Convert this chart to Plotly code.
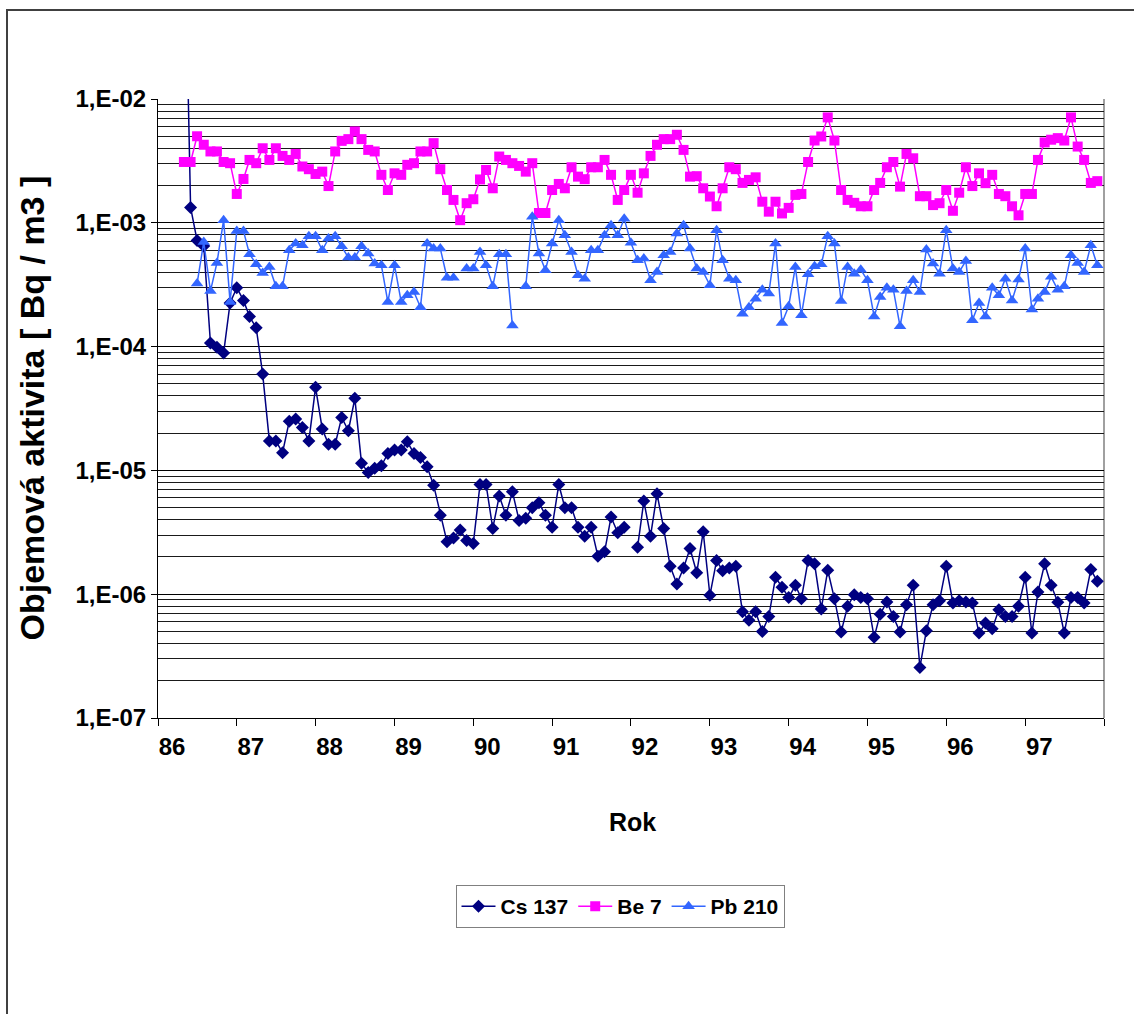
import plotly.graph_objects as go
import pandas as pd

# ---------------- data (monthly values, Bq/m3) ----------------
cs_start = "1986-05-01"
cs137 = [
    0.5, 1.33e-3, 7.2e-4, 6.5e-4, 1.07e-4, 9.9e-5, 8.86e-5, 2.25e-4,           # 86 May-Dec
    2.99e-4, 2.36e-4, 1.75e-4, 1.42e-4, 6.0e-5, 1.73e-5, 1.73e-5, 1.39e-5,
    2.49e-5, 2.6e-5, 2.22e-5, 1.73e-5,                                          # 87
    4.69e-5, 2.16e-5, 1.63e-5, 1.63e-5, 2.68e-5, 2.09e-5, 3.82e-5, 1.14e-5,
    9.6e-6, 1.04e-5, 1.09e-5, 1.37e-5,                                          # 88
    1.46e-5, 1.46e-5, 1.7e-5, 1.37e-5, 1.27e-5, 1.07e-5, 7.6e-6, 4.35e-6,
    2.65e-6, 2.85e-6, 3.3e-6, 2.72e-6,                                          # 89
    2.57e-6, 7.7e-6, 7.7e-6, 3.4e-6, 6.2e-6, 4.35e-6, 6.73e-6, 3.94e-6,
    4.1e-6, 5.0e-6, 5.48e-6, 4.35e-6,                                           # 90
    3.48e-6, 7.7e-6, 5.0e-6, 5.0e-6, 3.48e-6, 2.94e-6, 3.48e-6, 2.03e-6,
    2.2e-6, 4.2e-6, 3.13e-6, 3.48e-6,                                           # 91
    None, 2.4e-6, 5.66e-6, 2.94e-6, 6.48e-6, 3.4e-6, 1.68e-6, 1.21e-6,
    1.63e-6, 2.34e-6, 1.49e-6, 3.19e-6,                                         # 92
    9.8e-7, 1.87e-6, 1.55e-6, 1.63e-6, 1.68e-6, 7.2e-7, 6.15e-7, 7.2e-7,
    5.0e-7, 6.6e-7, 1.37e-6, 1.14e-6,                                           # 93
    9.4e-7, 1.18e-6, 9.2e-7, 1.87e-6, 1.76e-6, 7.6e-7, 1.56e-6, 9.2e-7,
    4.94e-7, 8.0e-7, 9.9e-7, 9.4e-7,                                            # 94
    9.2e-7, 4.48e-7, 6.9e-7, 8.65e-7, 6.6e-7, 4.94e-7, 8.2e-7, 1.18e-6,
    2.56e-7, 5.07e-7, 8.2e-7, 8.87e-7,                                          # 95
    1.68e-6, 8.5e-7, 8.87e-7, 8.65e-7, 8.5e-7, 4.85e-7, 5.85e-7, 5.26e-7,
    7.5e-7, 6.6e-7, 6.6e-7, 8.0e-7,                                             # 96
    1.37e-6, 4.85e-7, 1.04e-6, 1.76e-6, 1.18e-6, 8.6e-7, 4.85e-7, 9.4e-7,
    9.4e-7, 8.5e-7, 1.58e-6, 1.27e-6,                                           # 97
]

be_start = "1986-05-01"
be7 = [
    3.1e-3, 3.1e-3, 5.0e-3, 4.27e-3, 3.77e-3, 3.77e-3, 3.1e-3, 3.03e-3,         # 86 May-Dec
    1.71e-3, 2.26e-3, 3.22e-3, 3.03e-3, 4.0e-3, 3.22e-3, 4.0e-3, 3.47e-3,
    3.22e-3, 3.6e-3, 2.85e-3, 2.71e-3,                                          # 87
    2.48e-3, 2.59e-3, 1.98e-3, 3.77e-3, 4.59e-3, 4.74e-3, 5.47e-3, 4.74e-3,
    3.88e-3, 3.77e-3, 2.44e-3, 1.84e-3,                                         # 88
    2.51e-3, 2.44e-3, 2.94e-3, 3.03e-3, 3.77e-3, 3.77e-3, 4.4e-3, 2.71e-3,
    1.84e-3, 1.53e-3, 1.05e-3, 1.44e-3,                                         # 89
    1.55e-3, 2.24e-3, 2.67e-3, 1.9e-3, 3.43e-3, 3.22e-3, 3.03e-3, 2.88e-3,
    2.59e-3, 3.03e-3, 1.2e-3, 1.2e-3,                                           # 90
    1.84e-3, 2.06e-3, 1.9e-3, 2.81e-3, 2.36e-3, 2.25e-3, 2.81e-3, 2.81e-3,
    3.22e-3, 2.44e-3, 1.53e-3, 1.84e-3,                                         # 91
    2.44e-3, 1.75e-3, 2.51e-3, 3.47e-3, 4.27e-3, 4.74e-3, 4.74e-3, 5.14e-3,
    3.88e-3, 2.36e-3, 2.38e-3, 1.9e-3,                                          # 92
    1.63e-3, 1.36e-3, 1.9e-3, 2.81e-3, 2.71e-3, 2.1e-3, 2.22e-3, 2.33e-3,
    1.48e-3, 1.23e-3, 1.48e-3, 1.19e-3,                                         # 93
    1.32e-3, 1.68e-3, 1.71e-3, 3.1e-3, 4.62e-3, 4.98e-3, 7.1e-3, 4.62e-3,
    1.84e-3, 1.53e-3, 1.45e-3, 1.36e-3,                                         # 94
    1.36e-3, 1.84e-3, 2.1e-3, 2.81e-3, 3.1e-3, 1.96e-3, 3.6e-3, 3.32e-3,
    1.64e-3, 1.64e-3, 1.39e-3, 1.44e-3,                                         # 95
    1.84e-3, 1.25e-3, 1.75e-3, 2.81e-3, 1.98e-3, 2.51e-3, 2.09e-3, 2.44e-3,
    1.71e-3, 1.64e-3, 1.36e-3, 1.15e-3,                                         # 96
    1.71e-3, 1.71e-3, 3.22e-3, 4.46e-3, 4.69e-3, 4.83e-3, 4.62e-3, 7.1e-3,
    4.13e-3, 3.22e-3, 2.1e-3, 2.17e-3,                                          # 97
]

pb_start = "1986-07-01"
pb210 = [
    3.23e-4, 7.0e-4, 2.81e-4, 4.74e-4, 1.05e-3, 2.29e-4,                        # 86 Jul-Dec
    8.6e-4, 8.6e-4, 5.57e-4, 4.62e-4, 3.93e-4, 4.4e-4, 3.07e-4, 3.07e-4,
    6.0e-4, 6.8e-4, 6.6e-4, 7.8e-4,                                             # 87
    7.8e-4, 6.0e-4, 7.46e-4, 7.8e-4, 6.47e-4, 5.24e-4, 5.24e-4, 6.47e-4,
    5.65e-4, 4.69e-4, 4.54e-4, 2.29e-4,                                         # 88
    4.54e-4, 2.29e-4, 2.6e-4, 2.76e-4, 2.08e-4, 6.8e-4, 6.2e-4, 6.2e-4,
    3.6e-4, 3.6e-4, None, 4.27e-4,                                              # 89
    4.27e-4, 5.82e-4, 4.54e-4, 3.07e-4, 5.57e-4, 5.57e-4, 1.48e-4, None,
    3.07e-4, 1.12e-3, 5.65e-4, 4.14e-4,                                         # 90
    6.8e-4, 1.05e-3, 7.94e-4, 5.82e-4, 3.77e-4, 3.54e-4, 6.0e-4, 6.0e-4,
    7.94e-4, 9.57e-4, 7.94e-4, 1.08e-3,                                         # 91
    6.89e-4, 4.99e-4, 5.14e-4, 3.43e-4, 4.01e-4, 5.47e-4, 5.82e-4, 8.2e-4,
    9.57e-4, 6.2e-4, 4.27e-4, 4.01e-4,                                          # 92
    3.13e-4, 8.72e-4, 4.99e-4, 3.54e-4, 3.43e-4, 1.84e-4, 2.08e-4, 2.44e-4,
    2.88e-4, 2.68e-4, 6.8e-4, 1.55e-4,                                          # 93
    2.12e-4, 4.4e-4, 1.79e-4, 3.84e-4, 4.46e-4, 4.62e-4, 7.8e-4, 6.8e-4,
    2.33e-4, 4.4e-4, 3.88e-4, 4.18e-4,                                          # 94
    3.43e-4, 1.75e-4, 2.51e-4, 2.99e-4, 2.88e-4, 1.46e-4, 2.81e-4, 3.43e-4,
    2.76e-4, 6.08e-4, 4.69e-4, 3.88e-4,                                         # 95
    8.72e-4, 4.27e-4, 4.01e-4, 4.92e-4, 1.63e-4, 2.25e-4, 1.75e-4, 2.99e-4,
    2.6e-4, 3.54e-4, 2.36e-4, 3.48e-4,                                          # 96
    6.2e-4, 1.99e-4, 2.44e-4, 2.76e-4, 3.66e-4, 2.88e-4, 3.07e-4, 5.47e-4,
    4.74e-4, 4.01e-4, 6.6e-4, 4.54e-4,                                          # 97
]

series_names = ["Cs 137", "Be 7", "Pb 210"]
year_ticks = [f"{y}-01-01" for y in range(1986, 1999)]
year_labels = ["86", "87", "88", "89", "90", "91", "92", "93", "94", "95", "96", "97", ""]
decade_vals = [1e-7, 1e-6, 1e-5, 1e-4, 1e-3, 1e-2]
decade_labels = ["1,E-07", "1,E-06", "1,E-05", "1,E-04", "1,E-03", "1,E-02"]
minor_vals = [k * d for d in decade_vals[:-1] for k in range(2, 10)]

# ---------------- figure ----------------
W, H = 1134, 1014
L, R, T, B = 158, 1104, 99, 718  # plot area in pixels


def px_x(p):
    return (p - L) / (R - L)


def px_y(p):
    return (B - p) / (B - T)


FONT = "Liberation Sans, Arial, sans-serif"


def months(start, n):
    return pd.date_range(start, periods=n, freq="MS")


fig = go.Figure()
fig.add_trace(go.Scatter(
    x=months(cs_start, len(cs137)), y=cs137, name=series_names[0],
    mode="lines+markers", connectgaps=False,
    line=dict(color="#000080", width=1.5),
    marker=dict(symbol="diamond", size=10, color="#000080"),
))
fig.add_trace(go.Scatter(
    x=months(be_start, len(be7)), y=be7, name=series_names[1],
    mode="lines+markers", connectgaps=False,
    line=dict(color="#FF00FF", width=1.5),
    marker=dict(symbol="square", size=10, color="#FF00FF"),
))
fig.add_trace(go.Scatter(
    x=months(pb_start, len(pb210)), y=pb210, name=series_names[2],
    mode="lines+markers", connectgaps=False,
    line=dict(color="#3366FF", width=1.5),
    marker=dict(symbol="triangle-up", size=11, color="#3366FF"),
))

fig.update_layout(
    width=W, height=H,
    margin=dict(l=L, r=W - R, t=T, b=H - B, pad=0),
    paper_bgcolor="white", plot_bgcolor="white",
    showlegend=True,
    legend=dict(
        orientation="h", x=px_x(620), xanchor="center", y=px_y(885), yanchor="top",
        bordercolor="#808080", borderwidth=1, bgcolor="white",
        font=dict(family=FONT, size=21, color="black", weight="bold"),
        itemwidth=34, tracegroupgap=0,
    ),
    xaxis=dict(
        type="date", range=["1986-01-01", "1998-01-01"],
        tickmode="array", tickvals=year_ticks, ticktext=year_labels,
        ticks="outside", ticklen=7, tickcolor="black", tickwidth=1,
        ticklabelshift=14,
        showline=True, linecolor="black", linewidth=1,
        showgrid=False, zeroline=False,
        tickfont=dict(family=FONT, size=24, color="black", weight="bold"),
    ),
    yaxis=dict(
        type="log", range=[-7, -2],
        tickmode="array", tickvals=decade_vals, ticktext=decade_labels,
        ticks="outside", ticklen=6, tickcolor="black", tickwidth=1,
        showline=True, linecolor="black", linewidth=1,
        showgrid=True, gridcolor="#000000", gridwidth=1,
        minor=dict(tickmode="array", tickvals=minor_vals, showgrid=True,
                   gridcolor="#1a1a1a", gridwidth=1, ticks=""),
        zeroline=False,
        tickfont=dict(family=FONT, size=24, color="black", weight="bold"),
    ),
    annotations=[
        dict(text="Objemová aktivita [ Bq / m3 ]", textangle=-90,
             x=px_x(31), y=0.5, xref="paper", yref="paper",
             xanchor="center", yanchor="middle", showarrow=False,
             font=dict(family=FONT, size=34, color="black", weight="bold")),
        dict(text="Rok", x=px_x(632), y=px_y(822), xref="paper", yref="paper",
             xanchor="center", yanchor="middle", showarrow=False,
             font=dict(family=FONT, size=25, color="black", weight="bold")),
    ],
    shapes=[
        # chart-area frame
        dict(type="rect", xref="paper", yref="paper",
             x0=px_x(7), x1=px_x(1200), y0=px_y(1100), y1=px_y(10),
             line=dict(color="#404040", width=2), fillcolor="rgba(0,0,0,0)", layer="below"),
        # plot-area right border
        dict(type="line", xref="paper", yref="paper", x0=1, x1=1, y0=0, y1=1,
             line=dict(color="#808080", width=1.5), layer="below"),
    ],
)

fig.write_html("out.html")
